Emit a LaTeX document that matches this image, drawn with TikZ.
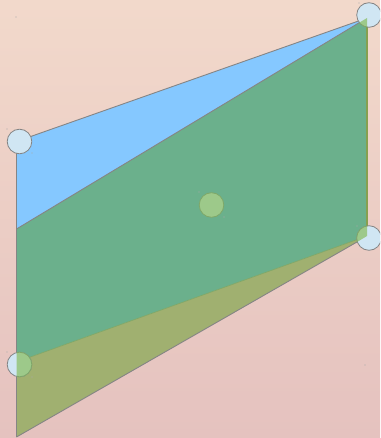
\documentclass[tikz,border=0pt]{standalone}
\usepackage{xcolor}
\definecolor{BgTop}{HTML}{F2D9CB}
\definecolor{BgBottom}{HTML}{E5C2BF}
\definecolor{SkyBlue}{HTML}{85C8FF}
\definecolor{SageGreen}{HTML}{6BB08C}
\definecolor{OliveGreen}{HTML}{A0B070}
\definecolor{PointBlue}{HTML}{D0E6F3}
\definecolor{PointGreen}{HTML}{9DC98A}
\definecolor{PointRim}{HTML}{7FA868}
\definecolor{EdgeGray}{HTML}{858585}
\definecolor{RimOlive}{HTML}{86A050}

\tikzset{
  edge/.style={draw=EdgeGray, line width=0.9pt},
  pointdisc/.style={fill=PointBlue, draw=EdgeGray, line width=0.8pt},
  pointdiscin/.style={fill=PointGreen, draw=PointRim, line width=0.8pt}
}

\begin{document}
\begin{tikzpicture}[x=1pt, y=-1pt]
    \useasboundingbox (0,0) rectangle (380,438);
    \clip (0,0) rectangle (380,438);
    \shade[top color=BgTop, bottom color=BgBottom] (0,0) rectangle (380,438);

    % corners of the figure
    \coordinate (topL) at (16.5,141.5);
    \coordinate (topR) at (367,18);
    \coordinate (midR) at (367,236);
    \coordinate (notch) at (357,242);
    \coordinate (midL) at (16.5,229);
    \coordinate (lowL) at (16.5,362);
    \coordinate (botL) at (16.5,437);

    % the three pieces
    \fill[SkyBlue] (topL) -- (topR) -- (midL) -- cycle;
    \fill[SageGreen] (midL) -- (topR) -- (midR) -- (lowL) -- cycle;
    \fill[OliveGreen] (lowL) -- (midR) -- (notch) -- (botL) -- cycle;

    \draw[edge] (topL) -- (topR);
    \draw[edge] (midL) -- (topR);
    \draw[draw=PointRim, line width=0.7pt] (lowL) -- (midR);
    \draw[edge] (botL) -- (notch) -- (midR);
    \draw[draw=RimOlive, line width=1.3pt] (topR) -- (midR);
    \draw[edge, line width=1.8pt] (topL) -- (botL);

    % points
    \draw[pointdisc] (19.5,141.5) circle (12.3);
    \draw[pointdisc] (369,15) circle (12.3);
    \draw[pointdisc] (369,238) circle (12.3);
    \draw[pointdisc] (19.5,364.5) circle (12.3);
    \begin{scope}
      \clip (midL) -- (topR) -- (midR) -- (notch) -- (botL) -- cycle;
      \draw[pointdiscin] (369,15) circle (12.3);
      \draw[pointdiscin] (369,238) circle (12.3);
      \draw[pointdiscin] (19.5,364.5) circle (12.3);
    \end{scope}
    \draw[pointdiscin] (211.5,205) circle (12.3);

    % tiny marks
    \foreach \px/\py in {16/17, 7/129, 32/153, 199/192, 224/217, 7/352, 32/377, 359/3, 357/226, 365/365}
      \fill[EdgeGray!70] (\px,\py) circle (0.6);
  \end{tikzpicture}
\end{document}
